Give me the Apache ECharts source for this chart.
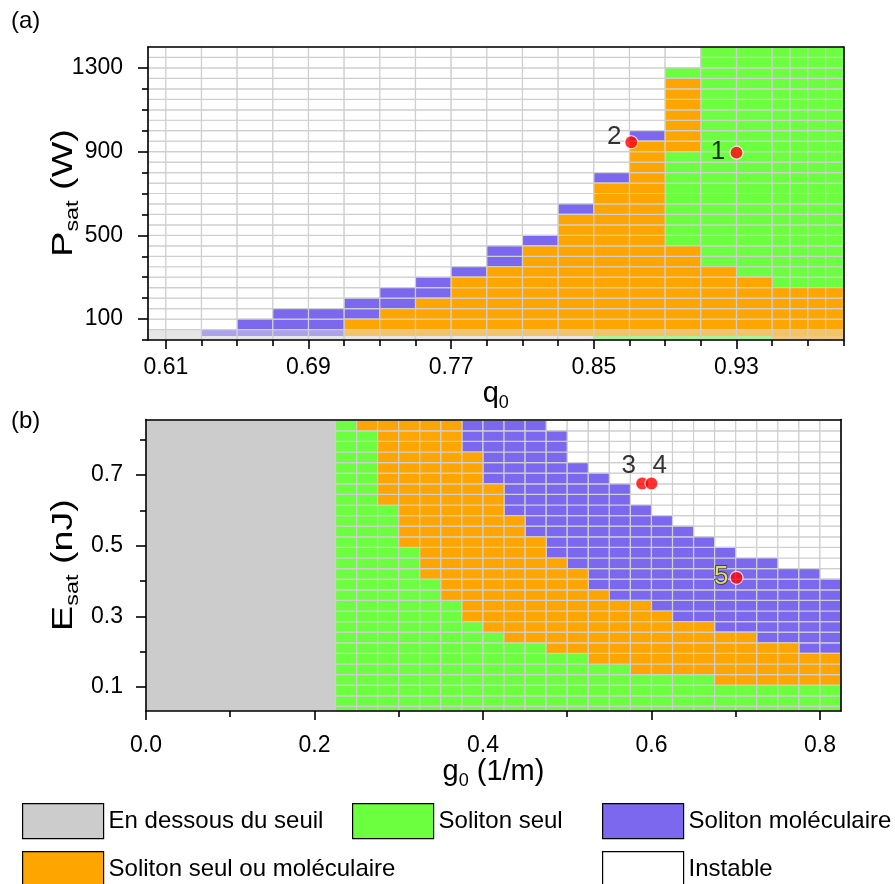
<!DOCTYPE html>
<html><head><meta charset="utf-8">
<script src="https://cdn.jsdelivr.net/npm/echarts@6/dist/echarts.min.js"></script>
<style>html,body{margin:0;padding:0;background:#fff}#c{width:895px;height:884px}</style>
</head><body><div id="c"></div><script>
// ===================== DATA =====================
// ---- Panel (a): q0 (column edges) vs P_sat (W, row edges)
const qEdges = [0.60,0.61,0.63,0.65,0.67,0.69,0.71,0.73,0.75,0.77,0.79,0.81,0.83,0.85,0.87,0.89,0.91,0.93,0.95,0.96,0.97,0.98,0.99];
const pEdges = [50,100,150,200,250,300,350,400,450,500,550,600,650,700,750,800,850,900,950,1000,1050,1100,1150,1200,1250,1300,1350,1400];
// segments per column above 50 W: [from, to, state]; S=soliton seul, M=moléculaire, O=seul ou moléculaire; rest unstable
const aSegments = [
  [], [], [],
  [[50,100,'M']],
  [[50,150,'M']],
  [[50,150,'M']],
  [[50,100,'O'],[100,200,'M']],
  [[50,150,'O'],[150,250,'M']],
  [[50,200,'O'],[200,300,'M']],
  [[50,300,'O'],[300,350,'M']],
  [[50,350,'O'],[350,450,'M']],
  [[50,450,'O'],[450,500,'M']],
  [[50,600,'O'],[600,650,'M']],
  [[50,750,'O'],[750,800,'M']],
  [[50,950,'O'],[950,1000,'M']],
  [[50,450,'O'],[450,900,'S'],[900,1250,'O'],[1250,1300,'S']],
  [[50,350,'O'],[350,1400,'S']],
  [[50,300,'O'],[300,1400,'S']],
  [[50,250,'O'],[250,1400,'S']],
  [[50,250,'O'],[250,1400,'S']],
  [[50,250,'O'],[250,1400,'S']],
  [[50,250,'O'],[250,1400,'S']]
];
// lowest row (0-50 W), shown faded: upper and lower parts
const aBottomUpper = ['-','-','M','M','M','M','O','O','O','O','O','O','O','O','O','O','O','O','O','O','O','O'];
const aBottomLower = ['-','-','-','-','-','-','-','-','-','-','-','-','-','S','S','S','S','S','O','O','O','O'];
const aBottomSplit = [0, 19, 50];
// points on panel (a): [q0, P_sat, label]
const ptsA = [[0.93, 895, '1'], [0.871, 945, '2']];

// ---- Panel (b): g0 (1/m) column edges vs E_sat (nJ) row edges
const gEdges = [0.225,0.25,0.275,0.3,0.325,0.35,0.375,0.4,0.425,0.45,0.475,0.5,0.525,0.55,0.575,0.6,0.625,0.65,0.675,0.7,0.725,0.75,0.775,0.8,0.825];
const eEdges = [0.015,0.045,0.075,0.105,0.135,0.165,0.195,0.225,0.255,0.285,0.315,0.345,0.375,0.405,0.435,0.465,0.495,0.525,0.555,0.585,0.615,0.645,0.675,0.705,0.735,0.765,0.795,0.825,0.855];
const bThreshold = 0.225;   // below this g0: below lasing threshold
const bGreenTop  = [0.855,0.825,0.615,0.495,0.405,0.345,0.285,0.255,0.225,0.225,0.195,0.195,0.165,0.165,0.135,0.135,0.135,0.135,0.105,0.105,0.105,0.105,0.105,0.105];
const bOrangeTop = [0.855,0.855,0.855,0.855,0.855,0.855,0.765,0.675,0.585,0.525,0.465,0.435,0.375,0.345,0.345,0.315,0.285,0.285,0.255,0.255,0.225,0.225,0.195,0.195];
const bPurpleTop = [0.855,0.855,0.855,0.855,0.855,0.855,0.855,0.855,0.855,0.855,0.825,0.735,0.705,0.675,0.615,0.585,0.555,0.525,0.495,0.465,0.465,0.435,0.435,0.405];
// points on panel (b): [g0, E_sat, label]
const ptsB = [[0.589, 0.676, '3'], [0.600, 0.676, '4'], [0.701, 0.409, '5']];

// ---- ticks
const aXMajor = [0.61,0.69,0.77,0.85,0.93];
const aXMinor = [0.63,0.65,0.67,0.71,0.73,0.75,0.79,0.81,0.83,0.87,0.89,0.91,0.95,0.97,0.99];
const aYMajor = [100,500,900,1300];
const aYMinor = [0,200,300,400,600,700,800,1000,1100,1200];
const bXMajor = [0,0.2,0.4,0.6,0.8];
const bXMinor = [0.1,0.3,0.5,0.7];
const bYMajor = [0.1,0.3,0.5,0.7];
const bYMinor = [0.2,0.4,0.6,0.8];
const aRange = {xMin:0.60, xMax:0.99, yMin:0, yMax:1400};
const bRange = {xMin:0, xMax:0.825, yMin:0.032, yMax:0.857};

// ===================== STYLE =====================
const FONT = '"Liberation Sans", Arial, sans-serif';
const COL = {T:'#cccccc', S:'#6bff40', M:'#7b68ee', O:'#ffa500', W:'#ffffff'};
const NAME = {T:'En dessous du seuil', S:'Soliton seul', M:'Soliton moléculaire', O:'Soliton seul ou moléculaire', W:'Instable'};
const GRIDLINE = '#cfcfcf';
const AX = {color:'#000', width:1.6};

// ===================== BUILD =====================
const aCells = {S:[],M:[],O:[],W:[]};
for (let c = 0; c < qEdges.length - 1; c++) {
  for (let r = 0; r < pEdges.length - 1; r++) {
    const p0 = pEdges[r], p1 = pEdges[r+1], mid = (p0 + p1) / 2;
    let st = 'W';
    for (const s of aSegments[c]) if (mid > s[0] && mid < s[1]) st = s[2];
    aCells[st].push([qEdges[c], qEdges[c+1], p0, p1]);
  }
}
const aBottom = [];
for (let c = 0; c < qEdges.length - 1; c++) aBottom.push([qEdges[c], qEdges[c+1], aBottomSplit[0], aBottomSplit[2]]);

const bCells = {S:[],M:[],O:[],W:[]};
for (let c = 0; c < gEdges.length - 1; c++) {
  for (let r = 0; r < eEdges.length - 1; r++) {
    const e0 = eEdges[r], e1 = eEdges[r+1], mid = (e0 + e1) / 2;
    const st = mid < bGreenTop[c] ? 'S' : mid < bOrangeTop[c] ? 'O' : mid < bPurpleTop[c] ? 'M' : 'W';
    bCells[st].push([gEdges[c], gEdges[c+1], e0, e1]);
  }
}
const bGrey = [[bRange.xMin, bThreshold, bRange.yMin, bRange.yMax]];

function rectOf(params, api) {
  const a = api.coord([api.value(0), api.value(2)]);
  const b = api.coord([api.value(1), api.value(3)]);
  const cs = params.coordSys;
  return echarts.graphic.clipRectByRect(
    {x: a[0], y: b[1], width: b[0] - a[0], height: a[1] - b[1]},
    {x: cs.x, y: cs.y, width: cs.width, height: cs.height});
}
function cellSeries(state, gi, data, stroke) {
  return {
    type: 'custom', name: NAME[state], xAxisIndex: gi*3, yAxisIndex: gi*3, data: data,
    encode: {x: [0,1], y: [2,3]}, z: 2, silent: true,
    itemStyle: {color: COL[state]},
    renderItem: function (params, api) {
      const shape = rectOf(params, api);
      if (!shape) return;
      return {type: 'rect', shape: shape,
        style: {fill: COL[state], stroke: stroke ? GRIDLINE : null, lineWidth: 1.2}};
    }
  };
}
function mixCol(st) { return st === '-' ? null : COL[st]; }
const bottomSeries = {
  type: 'custom', xAxisIndex: 0, yAxisIndex: 0, data: aBottom, encode: {x:[0,1], y:[2,3]}, z: 2, silent: true,
  renderItem: function (params, api) {
    const i = params.dataIndex;
    const x0 = api.coord([api.value(0), 0])[0], x1 = api.coord([api.value(1), 0])[0];
    const y0 = api.coord([0, aBottomSplit[0]])[1], ym = api.coord([0, aBottomSplit[1]])[1], y1 = api.coord([0, aBottomSplit[2]])[1];
    const ch = [{type:'rect', shape:{x:x0, y:y1, width:x1-x0, height:y0-y1}, style:{fill:'#e6e6e6'}}];
    const up = mixCol(aBottomUpper[i]), lo = mixCol(aBottomLower[i]);
    if (up) ch.push({type:'rect', shape:{x:x0, y:y1, width:x1-x0, height:ym-y1}, style:{fill:up, opacity:0.55}});
    if (lo) ch.push({type:'rect', shape:{x:x0, y:ym, width:x1-x0, height:y0-ym}, style:{fill:lo, opacity:0.45}});
    ch.push({type:'rect', shape:{x:x0, y:y1, width:x1-x0, height:y0-y1}, style:{fill:null, stroke:GRIDLINE, lineWidth:1.2}});
    return {type:'group', children: ch};
  }
};

const rich = {
  b: {fontSize: 29, lineHeight: 36, fontFamily: FONT, color: '#000'},
  s: {fontSize: 18, lineHeight: 18, fontFamily: FONT, color: '#000', verticalAlign: 'bottom'}
};
const richG = {
  b: {fontSize: 29, lineHeight: 36, fontFamily: FONT, fill: '#000'},
  s: {fontSize: 18, lineHeight: 18, fontFamily: FONT, fill: '#000', verticalAlign: 'bottom'}
};
function nameStyle() { return {fontSize: 29, color: '#000', fontFamily: FONT, rich: rich}; }

function xAxes(gi, R, major, minor, fmt, margin, name, nameGap) {
  return [
    {type:'value', gridIndex:gi, min:R.xMin, max:R.xMax, position:'bottom', z:10,
     axisLine:{show:true, onZero:false, lineStyle:AX},
     axisTick:{show:true, customValues:major, length:9, lineStyle:AX},
     axisLabel:{show:true, customValues:major, formatter:fmt, margin:margin, fontSize:23, color:'#000', fontFamily:FONT},
     splitLine:{show:false}, name:name, nameLocation:'middle', nameGap:nameGap, nameTextStyle:nameStyle()},
    {type:'value', gridIndex:gi, min:R.xMin, max:R.xMax, position:'bottom', z:10,
     axisLine:{show:false, onZero:false}, axisTick:{show:true, customValues:minor, length:6, lineStyle:AX},
     axisLabel:{show:false}, splitLine:{show:false}},
    {type:'value', gridIndex:gi, min:R.xMin, max:R.xMax, position:'top', z:10,
     axisLine:{show:true, onZero:false, lineStyle:AX}, axisTick:{show:false}, axisLabel:{show:false}, splitLine:{show:false}}
  ];
}
function yAxes(gi, R, major, minor, fmt, margin) {
  return [
    {type:'value', gridIndex:gi, min:R.yMin, max:R.yMax, position:'left', z:10,
     axisLine:{show:true, onZero:false, lineStyle:AX},
     axisTick:{show:true, customValues:major, length:10, lineStyle:AX},
     axisLabel:{show:true, customValues:major, formatter:fmt, margin:margin, fontSize:23, color:'#000', fontFamily:FONT},
     splitLine:{show:false}},
    {type:'value', gridIndex:gi, min:R.yMin, max:R.yMax, position:'left', z:10,
     axisLine:{show:false, onZero:false}, axisTick:{show:true, customValues:minor, length:6, lineStyle:AX},
     axisLabel:{show:false}, splitLine:{show:false}},
    {type:'value', gridIndex:gi, min:R.yMin, max:R.yMax, position:'right', z:10,
     axisLine:{show:true, onZero:false, lineStyle:AX}, axisTick:{show:false}, axisLabel:{show:false}, splitLine:{show:false}}
  ];
}
// rotated y-axis titles (stretched along their length as in the reference)
function yTitle(text, x, y) {
  return {type:'text', x:x, y:y, rotation:Math.PI/2, scaleX:1.3, scaleY:1, z:20, silent:true,
    style:{text:text, rich:richG, fill:'#000', fontSize:29, fontFamily:FONT,
      align:'center', verticalAlign:'middle', textAlign:'center', textVerticalAlign:'middle'}};
}

const labelPos = {'1':[-11.5,6.5], '2':[-10,1.8], '3':[-6.3,-10.2], '4':[15.3,-10.2], '5':[-8.2,6.5]};
function pointSeries(gi, pts) {
  return {
    type:'scatter', xAxisIndex:gi*3, yAxisIndex:gi*3, z:6, symbol:'circle', symbolSize:13,
    itemStyle:{color:'#ff0000', borderColor:'#ffffff', borderWidth:1.2},
    data: pts.map(p => ({
      value:[p[0], p[1]], name:p[2],
      label:{show:true, formatter:p[2], position:labelPos[p[2]], align:'center', verticalAlign:'middle',
        fontSize:26, fontFamily:FONT,
        color: p[2] === '5' ? '#ffff66' : '#000',
        textBorderColor: p[2] === '5' ? '#222' : 'transparent', textBorderWidth: p[2] === '5' ? 1.6 : 0}
    }))
  };
}

function legendAt(state, left, top) {
  return {left:left, top:top, padding:0, itemGap:0, itemWidth:81, itemHeight:35, icon:'rect', selectedMode:false,
    textStyle:{fontSize:24, color:'#000', fontFamily:FONT},
    data:[{name:NAME[state], itemStyle:{color:COL[state], borderColor:'#000', borderWidth:1.2}}]};
}

const option = {
  animation: false,
  backgroundColor: '#ffffff',
  title: [
    {text:'(a)', left:11, top:9, padding:0, textStyle:{fontSize:24, fontWeight:'normal', fontFamily:FONT, color:'#000'}},
    {text:'(b)', left:11, top:409, padding:0, textStyle:{fontSize:24, fontWeight:'normal', fontFamily:FONT, color:'#000'}}
  ],
  grid: [
    {left:148, top:47, width:695.5, height:293},
    {left:146, top:419.5, width:695, height:291.5}
  ],
  xAxis: [].concat(
    xAxes(0, aRange, aXMajor, aXMinor, v => v.toFixed(2), 16, '{b|q}{s|0}', 30),
    xAxes(1, bRange, bXMajor, bXMinor, v => v.toFixed(1), 23, '{b|g}{s|0}{b| (1/m)}', 38)
  ),
  yAxis: [].concat(
    yAxes(0, aRange, aYMajor, aYMinor, v => String(v), 25),
    yAxes(1, bRange, bYMajor, bYMinor, v => v.toFixed(1), 23)
  ),
  graphic: [
    yTitle('{b|P}{s|sat}{b| (W)}', 64, 193),
    yTitle('{b|E}{s|sat}{b| (nJ)}', 64, 565)
  ],
  legend: [
    legendAt('T', 22, 803), legendAt('S', 352, 803), legendAt('M', 602, 803),
    legendAt('O', 22, 851), legendAt('W', 602, 851)
  ],
  series: [
    cellSeries('W', 0, aCells.W, true),
    cellSeries('S', 0, aCells.S, true),
    cellSeries('M', 0, aCells.M, true),
    cellSeries('O', 0, aCells.O, true),
    bottomSeries,
    pointSeries(0, ptsA),
    cellSeries('T', 1, bGrey, false),
    cellSeries('W', 1, bCells.W, true),
    cellSeries('S', 1, bCells.S, true),
    cellSeries('M', 1, bCells.M, true),
    cellSeries('O', 1, bCells.O, true),
    pointSeries(1, ptsB)
  ]
};
const chart = echarts.init(document.getElementById('c'), null, {renderer:'canvas'});
chart.setOption(option);
</script></body></html>
